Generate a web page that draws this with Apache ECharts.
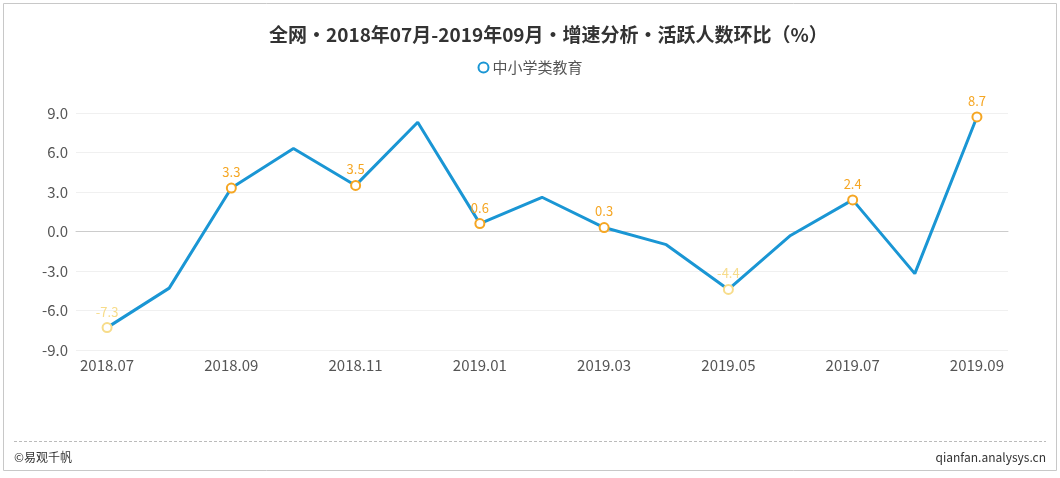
<!DOCTYPE html>
<html><head><meta charset="utf-8">
<script src="https://cdn.jsdelivr.net/npm/echarts@6/dist/echarts.min.js"></script>
<style>html,body{margin:0;padding:0;background:#fff}#c{width:1060px;height:478px}</style>
</head><body><div id="c"></div>
<script>
const categories = ['2018.07','2018.08','2018.09','2018.10','2018.11','2018.12','2019.01','2019.02','2019.03','2019.04','2019.05','2019.06','2019.07','2019.08','2019.09'];
const values = [-7.3,-4.3,3.3,6.3,3.5,8.3,0.6,2.6,0.3,-1.0,-4.4,-0.3,2.4,-3.2,8.7];
const labeled = [true,false,true,false,true,false,true,false,true,false,true,false,true,false,true];
const yTicks = {min:-9, max:9, interval:3};

const FONT = '"Noto Sans CJK SC","Noto Sans",sans-serif';
const seriesData = values.map((v,i)=>{
  if(!labeled[i]) return {value:v, symbol:'none', label:{show:false}};
  const c = v < 0 ? '#f7dc8a' : '#f5a623';
  return {value:v, symbol:'circle', symbolSize:9,
    itemStyle:{color:'#fff', borderColor:c, borderWidth:2},
    label:{show:true, position:'top', color:c, fontSize:13, fontFamily:FONT, distance:4,
      formatter:p=>p.value.toFixed(1)}};
});

const chart = echarts.init(document.getElementById('c'));
chart.setOption({
  animation:false,
  title:{text:'全网・2018年07月-2019年09月・增速分析・活跃人数环比（%）', left:264, top:20,
    textStyle:{fontSize:19, fontWeight:'bold', color:'#333', fontFamily:FONT}},
  legend:{top:55, left:'center', icon:'emptyCircle', itemWidth:10, itemHeight:10, itemGap:5,
    textStyle:{fontSize:15, color:'#555', fontFamily:FONT, padding:[0,0,0,-1]}, data:['中小学类教育']},
  grid:{left:76, right:52, top:113, bottom:128, containLabel:false},
  xAxis:{type:'category', data:categories, boundaryGap:true,
    axisLine:{show:true, onZero:true, lineStyle:{color:'#ccc'}},
    axisTick:{show:false},
    axisLabel:{interval:1, color:'#555', fontSize:15, fontFamily:FONT, margin:8},
  },
  yAxis:{type:'value', min:yTicks.min, max:yTicks.max, interval:yTicks.interval,
    axisLine:{show:false}, axisTick:{show:false},
    axisLabel:{color:'#555', fontSize:15, fontFamily:FONT, margin:8, formatter:v=>v.toFixed(1)},
    splitLine:{lineStyle:{color:'#f0f0f0'}}},
  series:[{name:'中小学类教育', type:'line', data:seriesData,
    lineStyle:{color:'#1a96d4', width:3}, itemStyle:{color:'#1a96d4'},
    showAllSymbol:true}],
  graphic:[
    {type:'rect', shape:{x:3.5,y:3.5,width:1053,height:467}, style:{fill:'none', stroke:'#c8c8c8', lineWidth:1}, silent:true, z:-1},
    {type:'line', shape:{x1:14,y1:441.5,x2:1046,y2:441.5}, style:{stroke:'#bbb', lineWidth:1, lineDash:[3,2]}},
    {type:'text', left:14, top:451, style:{text:'©易观千帆', fill:'#333', font:'12px '+FONT}},
    {type:'text', right:14, top:451, style:{text:'qianfan.analysys.cn', fill:'#333', font:'12px '+FONT}}
  ]
});
</script></body></html>
